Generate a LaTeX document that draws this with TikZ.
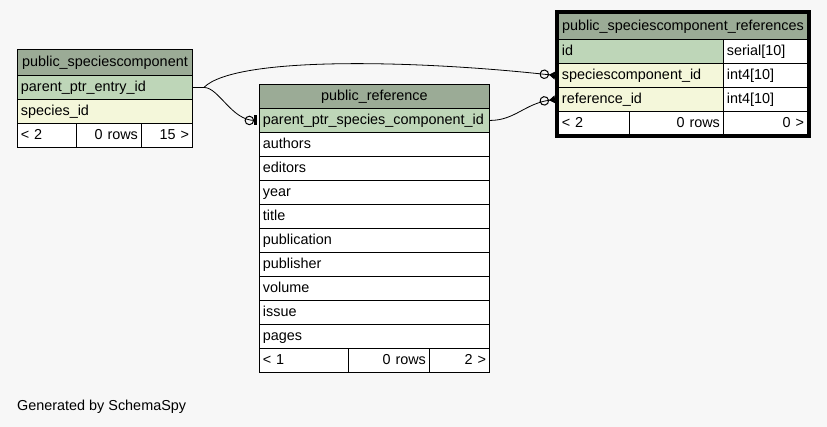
\documentclass[tikz,border=0pt]{standalone}
\usepackage{fontspec}
\setmainfont{Liberation Sans}
\usetikzlibrary{arrows.meta}

\definecolor{bgcol}{HTML}{F7F7F7}
\definecolor{hdr}{HTML}{9BAB96}
\definecolor{key}{HTML}{BED6B8}
\definecolor{idx}{HTML}{F4F7DA}

\tikzstyle{cell}=[rectangle,
    draw=black,
    line width=0.9pt,
    anchor=north west,
    inner xsep=3.5pt,
    inner ysep=0pt,
    minimum height=24pt,
    text height=11pt,
    text depth=2.5pt,
    align=left,
    fill=white]
\tikzstyle{head} = [cell, fill=hdr, align=center]
\tikzstyle{link} = [line width=0.8pt]
\tikzstyle{many} = [link, -{Circle[open,length=9.5pt,line width=1pt]Triangle[reversed,length=6pt,width=8pt]}]
\tikzstyle{one} = [link, -{Circle[open,length=9.5pt,line width=1pt]Bar[width=10pt,line width=2.4pt]}]

\begin{document}
\begin{tikzpicture}[x=1pt, y=-1pt, font=\fontsize{14.4}{17}\selectfont]
    \fill[bgcol] (0,0) rectangle (827,427);
    \useasboundingbox (0,0) rectangle (827,427);

    \node (sc_hdr) [head, text width=168pt, minimum height=26pt] at (17,49) {public\_speciescomponent};
    \node (sc_ptr) [cell, fill=key, text width=168pt] at (17,75) {parent\_ptr\_entry\_id};
    \node (sc_spec) [cell, fill=idx, text width=168pt] at (17,99) {species\_id};
    \node (sc_f1) [cell, text width=52pt] at (17,123) {< 2};
    \node (sc_f2) [cell, text width=58pt, align=right] at (76,123) {0 rows};
    \node (sc_f3) [cell, text width=44pt, align=right] at (141,123) {15 >};

    \node (ref_hdr) [head, text width=223pt] at (259,84) {public\_reference};
    \node (ref_ptr) [cell, fill=key, text width=223pt] at (259,108) {parent\_ptr\_species\_component\_id};
    \foreach \col [count=\i] in {authors,editors,year,title,publication,publisher,volume,issue,pages}
        \node (ref_\i) [cell, text width=223pt] at (259,{108+24*\i}) {\col};
    \node (ref_f1) [cell, text width=82pt] at (259,348) {< 1};
    \node (ref_f2) [cell, text width=74pt, align=right] at (348,348) {0 rows};
    \node (ref_f3) [cell, text width=53pt, align=right] at (429,348) {2 >};

    \node (scr_hdr) [head, text width=242pt, minimum height=26pt] at (558,13) {public\_speciescomponent\_references};
    \node (scr_id) [cell, fill=key, text width=158pt] at (558,39) {id};
    \node (scr_id_t) [cell, text width=77pt] at (723,39) {serial[10]};
    \node (scr_sc) [cell, fill=idx, text width=158pt] at (558,63) {speciescomponent\_id};
    \node (scr_sc_t) [cell, text width=77pt] at (723,63) {int4[10]};
    \node (scr_ref) [cell, fill=idx, text width=158pt] at (558,87) {reference\_id};
    \node (scr_ref_t) [cell, text width=77pt] at (723,87) {int4[10]};
    \node (scr_f1) [cell, text width=64pt, minimum height=23pt] at (558,111) {< 2};
    \node (scr_f2) [cell, text width=87pt, minimum height=23pt, align=right] at (629,111) {0 rows};
    \node (scr_f3) [cell, text width=77pt, minimum height=23pt, align=right] at (723,111) {0 >};
    \draw[line width=3pt] ([shift={(-1.5,-1.5)}]scr_hdr.north west) rectangle ([shift={(1.5,1.5)}]scr_f3.south east);

    \coordinate (split) at ([xshift=11pt]sc_ptr.east);
    \draw [line width=1.6pt] (sc_ptr.east) -- (split);
    \draw [many] (split) .. controls +(32,-32) and +(-135,-15) .. ([xshift=-3pt]scr_sc.west);
    \draw [one] (split) .. controls +(15,0) and +(-25,0) .. ([xshift=-2.5pt]ref_ptr.west);
    \draw [many] (ref_ptr.east) .. controls +(25,0) and +(-30,4) .. ([xshift=-3pt]scr_ref.west);

    \node (credit) [anchor=west, inner sep=0pt] at (17,407) {Generated by SchemaSpy};
\end{tikzpicture}
\end{document}
